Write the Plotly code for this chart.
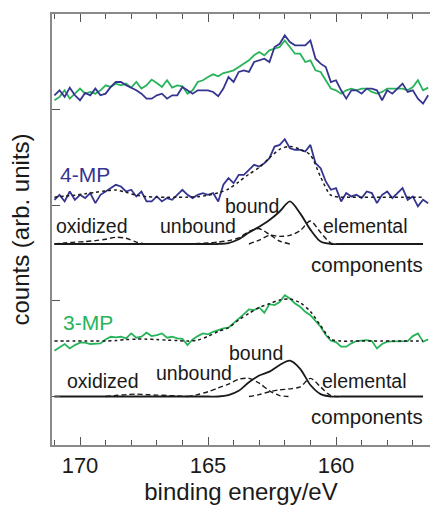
import plotly.graph_objects as go

# ---------------- measured spectra (S 2p region) ----------------
# binding-energy sampling of the scans, 0.2 eV steps
BE_SCAN = [round(171.0 - 0.2 * i, 1) for i in range(74)]

# normalized overlay of both molecules
TOP_4MP = [0.0, 0.052, -0.017, 0.080, 0.0, -0.052, 0.024, 0.0, 0.070, 0.0,
           0.017, 0.087, 0.139, 0.139, 0.104, 0.080, 0.052, 0.017, -0.035, -0.035,
           0.0, 0.017, -0.035, 0.0, 0.0, 0.087, 0.052, 0.017, 0.052, 0.052,
           0.052, 0.035, -0.010, 0.070, 0.191, 0.139, 0.244, 0.261, 0.244, 0.348,
           0.365, 0.383, 0.348, 0.505, 0.539, 0.626, 0.557, 0.522, 0.522, 0.522,
           0.574, 0.383, 0.331, 0.296, 0.139, 0.157, 0.052, -0.035, 0.052, 0.052,
           0.017, 0.070, 0.070, 0.052, -0.052, 0.052, 0.017, 0.070, 0.122, 0.035,
           0.052, -0.035, -0.087, 0.0]
TOP_3MP = [-0.052, -0.017, 0.052, -0.035, 0.017, 0.070, 0.017, 0.035, 0.017, 0.052,
           0.104, 0.087, 0.122, 0.104, 0.122, 0.080, 0.139, 0.070, 0.104, 0.164,
           0.129, 0.087, 0.157, 0.080, 0.104, 0.094, 0.017, 0.052, 0.139, 0.157,
           0.191, 0.219, 0.198, 0.233, 0.244, 0.261, 0.296, 0.331, 0.365, 0.418,
           0.452, 0.418, 0.470, 0.487, 0.505, 0.574, 0.505, 0.435, 0.435, 0.348,
           0.365, 0.261, 0.244, 0.157, 0.070, 0.052, 0.017, 0.052, 0.070, 0.052,
           0.070, 0.070, 0.035, 0.017, 0.035, 0.070, 0.070, 0.070, 0.070, 0.052,
           0.087, 0.157, 0.052, 0.080]

# individual spectra
SPEC_4MP = [-0.028, 0.024, -0.045, 0.059, -0.028, 0.024, -0.010, 0.042, -0.063, 0.024,
            0.059, 0.094, 0.129, 0.111, 0.059, 0.077, 0.007, 0.059, -0.045, -0.045,
            0.007, -0.045, -0.010, -0.028, 0.024, 0.077, 0.024, -0.010, 0.024, 0.042,
            0.024, 0.042, -0.045, 0.129, 0.198, 0.146, 0.233, 0.233, 0.285, 0.338,
            0.320, 0.355, 0.407, 0.529, 0.546, 0.605, 0.511, 0.494, 0.494, 0.477,
            0.546, 0.355, 0.303, 0.164, 0.077, 0.094, -0.045, 0.042, 0.007, 0.024,
            -0.010, 0.059, 0.042, -0.063, 0.024, 0.059, -0.010, 0.042, 0.094, -0.028,
            0.007, -0.097, -0.028, -0.063]
SPEC_3MP = [-0.101, -0.070, -0.031, -0.077, -0.042, -0.017, -0.017, -0.031, -0.024, -0.024,
            0.017, 0.045, 0.038, 0.045, 0.028, 0.080, 0.035, 0.045, 0.087, 0.052,
            0.063, 0.080, 0.035, 0.045, 0.028, 0.024, -0.042, 0.017, 0.052, 0.080,
            0.070, 0.097, 0.115, 0.132, 0.139, 0.184, 0.237, 0.282, 0.331, 0.324,
            0.351, 0.296, 0.386, 0.376, 0.407, 0.480, 0.445, 0.393, 0.358, 0.306,
            0.271, 0.212, 0.150, 0.063, 0.003, -0.010, -0.059, -0.059, -0.024, 0.0,
            0.003, 0.010, 0.0, -0.077, -0.031, -0.007, -0.003, -0.003, -0.003, 0.0,
            0.052, 0.080, -0.007, 0.017]

# ---------------- fitted components, 0.4 eV steps ----------------
BE_COMP = [round(171.0 - 0.4 * i, 1) for i in range(37)]
N = None

FIT_4MP = [0.0, 0.01, 0.02, 0.035, 0.05, 0.065, 0.075, 0.05, 0.02, 0.005,
           0.0, 0.0, 0.0, 0.0, 0.005, 0.02, 0.045, 0.085, 0.16, 0.24,
           0.31, 0.41, 0.50, 0.53, 0.50, 0.44, 0.21, 0.02, 0.0, 0.0,
           0.0, 0.0, 0.0, 0.0, 0.0, 0.0, 0.0]
OXI_4MP = [0.0, 0.01, 0.02, 0.025, 0.035, 0.05, 0.07, 0.06, 0.02, 0.0,
           0.0, N, N, N, N, N, N, N, N, N,
           N, N, N, N, N, N, N, N, N, N,
           N, N, N, N, N, N, N]
UNB_4MP = [N, N, N, N, N, N, N, N, N, N,
           N, N, N, 0.0, 0.005, 0.01, 0.02, 0.035, 0.065, 0.13,
           0.16, 0.10, 0.03, 0.0, N, N, N, N, N, N,
           N, N, N, N, N, N, N]
BND_4MP = [0.0, 0.0, 0.0, 0.0, 0.0, 0.0, 0.0, 0.0, 0.0, 0.0,
           0.0, 0.0, 0.0, 0.0, 0.0, 0.0, 0.0, 0.01, 0.05, 0.12,
           0.18, 0.25, 0.34, 0.445, 0.32, 0.15, 0.025, 0.0, 0.0, 0.0,
           0.0, 0.0, 0.0, 0.0, 0.0, 0.0, 0.0]
ELE_4MP = [N, N, N, N, N, N, N, N, N, N,
           N, N, N, N, N, N, N, N, N, 0.0,
           0.04, 0.09, 0.08, 0.09, 0.14, 0.24, 0.12, 0.01, 0.0, N,
           N, N, N, N, N, N, N]

FIT_3MP = [0.0, 0.0, 0.0, 0.0, 0.0, 0.0, 0.005, 0.015, 0.02, 0.02,
           0.015, 0.01, 0.005, 0.0, 0.01, 0.05, 0.10, 0.14, 0.22, 0.29,
           0.35, 0.39, 0.43, 0.44, 0.40, 0.31, 0.16, 0.02, 0.0, 0.0,
           0.0, 0.0, 0.0, 0.0, 0.0, 0.0, 0.0]
OXI_3MP = [N, N, N, N, N, 0.0, 0.01, 0.02, 0.025, 0.02,
           0.015, 0.01, 0.005, 0.0, N, N, N, N, N, N,
           N, N, N, N, N, N, N, N, N, N,
           N, N, N, N, N, N, N]
UNB_3MP = [N, N, N, N, N, N, N, N, N, N,
           N, N, N, 0.0, 0.02, 0.05, 0.09, 0.13, 0.18, 0.19,
           0.14, 0.06, 0.01, 0.0, N, N, N, N, N, N,
           N, N, N, N, N, N, N]
BND_3MP = [0.0, 0.0, 0.0, 0.0, 0.0, 0.0, 0.0, 0.0, 0.0, 0.0,
           0.0, 0.0, 0.0, 0.0, 0.0, 0.0, 0.0, 0.015, 0.06, 0.15,
           0.22, 0.26, 0.33, 0.375, 0.29, 0.12, 0.025, 0.0, 0.0, 0.0,
           0.0, 0.0, 0.0, 0.0, 0.0, 0.0, 0.0]
ELE_3MP = [N, N, N, N, N, N, N, N, N, N,
           N, N, N, N, N, N, N, N, N, 0.0,
           0.02, 0.05, 0.07, 0.08, 0.10, 0.19, 0.10, 0.01, 0.0, N,
           N, N, N, N, N, N, N]

X_TICKS = [170, 165, 160]

# vertical offsets of the stacked curves
OFF_TOP = 3.15
OFF_4MP = 2.085
OFF_4MP_COMP = 1.595
OFF_3MP = 0.58
OFF_3MP_COMP = 0.0

BLUE = "#35358f"
GREEN = "#27b35a"
INK = "#1a1a1a"
AXIS = "#8a8a8a"
FONT = "Liberation Sans, Arial, Helvetica, sans-serif"


def shift(vals, off):
    return [None if v is None else v + off for v in vals]


fig = go.Figure()


def line(x, y, color, width=1.8, dash="solid", shape="linear"):
    fig.add_trace(go.Scatter(
        x=x, y=y, mode="lines", connectgaps=False,
        line=dict(color=color, width=width, dash=dash, shape=shape,
                  smoothing=0.8 if shape == "spline" else None),
        hoverinfo="skip", showlegend=False))


DASH = "5px,3px"

# overlay of both normalized spectra
line(BE_SCAN, shift(TOP_3MP, OFF_TOP), GREEN)
line(BE_SCAN, shift(TOP_4MP, OFF_TOP), BLUE)

# 4-MP spectrum with fit envelope and components
line(BE_SCAN, shift(SPEC_4MP, OFF_4MP), BLUE)
line(BE_COMP, shift(FIT_4MP, OFF_4MP), INK, width=1.5, dash="dot", shape="spline")
line(BE_COMP, shift(BND_4MP, OFF_4MP_COMP), INK, width=1.8, shape="spline")
for comp in (OXI_4MP, UNB_4MP, ELE_4MP):
    line(BE_COMP, shift(comp, OFF_4MP_COMP), INK, width=1.4, dash=DASH, shape="spline")

# 3-MP spectrum with fit envelope and components
line(BE_SCAN, shift(SPEC_3MP, OFF_3MP), GREEN)
line(BE_COMP, shift(FIT_3MP, OFF_3MP), INK, width=1.5, dash="dot", shape="spline")
line(BE_COMP, shift(BND_3MP, OFF_3MP_COMP), INK, width=1.8, shape="spline")
for comp in (OXI_3MP, UNB_3MP, ELE_3MP):
    line(BE_COMP, shift(comp, OFF_3MP_COMP), INK, width=1.4, dash=DASH, shape="spline")

# text labels (binding energy, stacked height)
LABELS = [
    ("4-MP", 169.80, 2.317, BLUE, 21),
    ("oxidized", 169.53, 1.778, INK, 19.5),
    ("unbound", 165.39, 1.783, INK, 19.5),
    ("bound", 163.28, 1.993, INK, 19.5),
    ("elemental", 158.83, 1.783, INK, 19.5),
    ("components", 158.79, 1.381, INK, 20.5),
    ("3-MP", 169.69, 0.774, GREEN, 21),
    ("oxidized", 169.10, 0.167, INK, 19.5),
    ("unbound", 165.55, 0.251, INK, 19.5),
    ("bound", 163.13, 0.450, INK, 19.5),
    ("elemental", 158.87, 0.167, INK, 19.5),
    ("components", 158.79, -0.214, INK, 20.5),
]
for text, bx, by, col, size in LABELS:
    fig.add_annotation(x=bx, y=by, xref="x", yref="y", text=text, showarrow=False,
                       xanchor="center", yanchor="middle",
                       font=dict(family=FONT, size=size, color=col))

fig.update_layout(
    width=430, height=505,
    margin=dict(l=52, r=0, t=14, b=60),
    paper_bgcolor="white", plot_bgcolor="white",
    font=dict(family=FONT, color=INK),
    showlegend=False,
)
fig.update_xaxes(
    range=[171.094, 156.328], tickvals=X_TICKS, ticks="inside", ticklen=8,
    tickwidth=1.3, tickcolor="#555555",
    minor=dict(dtick=1, ticks="inside", ticklen=5, tickwidth=1.2, tickcolor="#555555"),
    showline=True, linecolor=AXIS, linewidth=1.8, mirror="allticks",
    showgrid=False, zeroline=False,
    tickfont=dict(family=FONT, size=22, color=INK),
    title=dict(text="binding energy/eV", font=dict(family=FONT, size=24, color=INK),
               standoff=4),
)
fig.update_yaxes(
    range=[-0.507, 4.0], tickvals=[0, 1, 2, 3, 4], ticks="inside", ticklen=8,
    tickwidth=1.3, tickcolor="#555555", showticklabels=False,
    showline=True, linecolor=AXIS, linewidth=1.8, mirror=False,
    showgrid=False, zeroline=False,
    title=dict(text="counts (arb. units)", font=dict(family=FONT, size=24, color=INK),
               standoff=14),
)

fig.write_html("out.html")
